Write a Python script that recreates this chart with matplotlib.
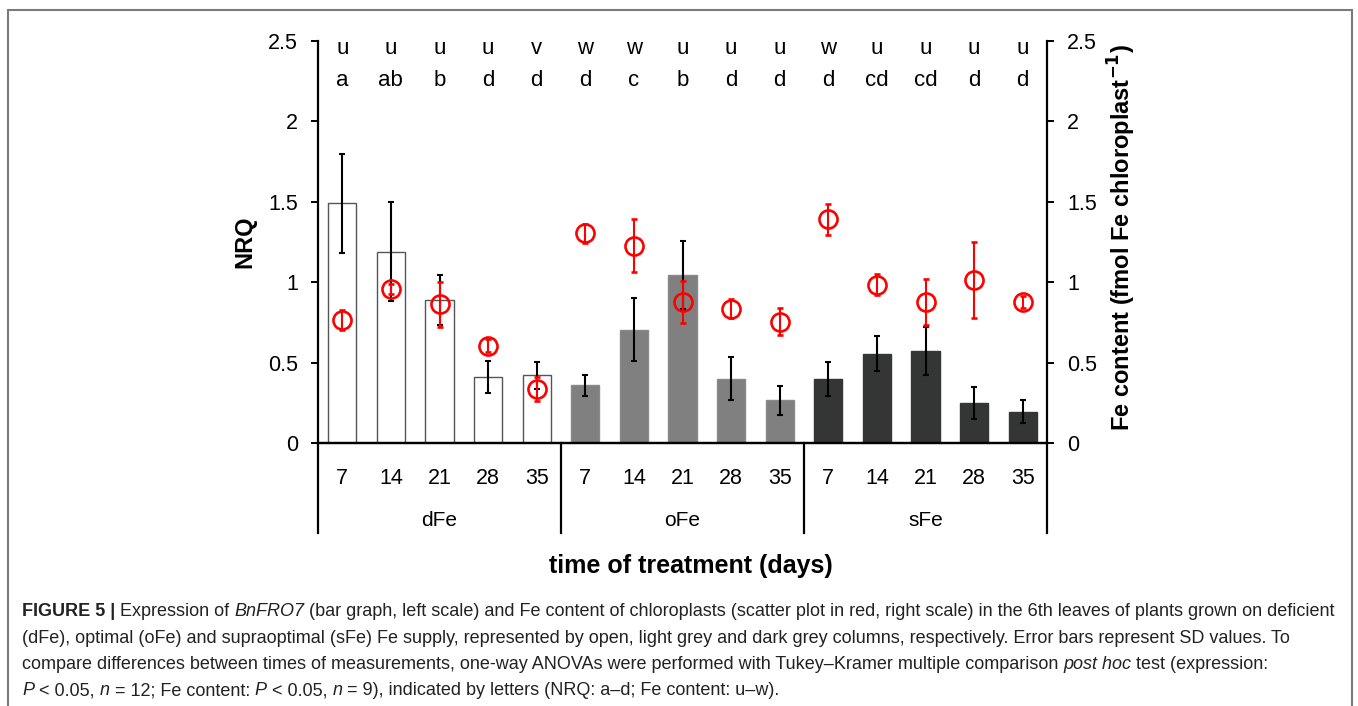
import matplotlib

matplotlib.use("Agg")
import matplotlib.pyplot as plt
from matplotlib import font_manager
from matplotlib.patches import Rectangle
from matplotlib.transforms import IdentityTransform
import numpy as np

# --- data ---------------------------------------------------------------
days = [7, 14, 21, 28, 35]
groups = ["dFe", "oFe", "sFe"]

nrq_dfe = [1.49, 1.19, 0.89, 0.41, 0.42]
nrq_dfe_sd = [0.31, 0.31, 0.155, 0.10, 0.085]
nrq_ofe = [0.36, 0.705, 1.045, 0.40, 0.265]
nrq_ofe_sd = [0.065, 0.195, 0.21, 0.135, 0.09]
nrq_sfe = [0.40, 0.555, 0.57, 0.25, 0.195]
nrq_sfe_sd = [0.105, 0.11, 0.15, 0.10, 0.072]

fe_dfe = [0.765, 0.956, 0.864, 0.605, 0.334]
fe_dfe_sd = [0.065, 0.031, 0.14, 0.039, 0.075]
fe_ofe = [1.304, 1.227, 0.879, 0.835, 0.755]
fe_ofe_sd = [0.058, 0.165, 0.13, 0.06, 0.085]
fe_sfe = [1.391, 0.983, 0.877, 1.014, 0.879]
fe_sfe_sd = [0.096, 0.065, 0.145, 0.236, 0.038]

fe_letters = ["u", "u", "u", "u", "v", "w", "w", "u", "u", "u", "w", "u", "u", "u", "u"]
nrq_letters = ["a", "ab", "b", "d", "d", "d", "c", "b", "d", "d", "d", "cd", "cd", "d", "d"]

caption = [
    [("FIGURE 5 | ", "bold"), ("Expression of ", "normal"), ("BnFRO7", "italic"),
     (" (bar graph, left scale) and Fe content of chloroplasts (scatter plot in red, right scale) "
      "in the 6th leaves of plants grown on deficient", "normal")],
    [("(dFe), optimal (oFe) and supraoptimal (sFe) Fe supply, represented by open, light grey and "
      "dark grey columns, respectively. Error bars represent SD values. To", "normal")],
    [("compare differences between times of measurements, one-way ANOVAs were performed with "
      "Tukey\u2013Kramer multiple comparison ", "normal"), ("post hoc", "italic"),
     (" test (expression:", "normal")],
    [("P", "italic"), (" < 0.05, ", "normal"), ("n", "italic"), (" = 12; Fe content: ", "normal"),
     ("P", "italic"), (" < 0.05, ", "normal"), ("n", "italic"),
     (" = 9), indicated by letters (NRQ: a\u2013d; Fe content: u\u2013w).", "normal")],
]

plt.rcParams["font.family"] = ["Liberation Sans", "DejaVu Sans"]

W, H = 1358, 706
fig = plt.figure(figsize=(W / 100, H / 100), dpi=100)

# axes box in pixels: left 318, right 1047, y=0 at 443, y=2.5 at 41
ax = fig.add_axes([318 / W, 1 - 443 / H, (1047 - 318) / W, (443 - 41) / H])
ax2 = ax.twinx()

nrq = [nrq_dfe, nrq_ofe, nrq_sfe]
nrq_sd = [nrq_dfe_sd, nrq_ofe_sd, nrq_sfe_sd]
fe = [fe_dfe, fe_ofe, fe_sfe]
fe_sd = [fe_dfe_sd, fe_ofe_sd, fe_sfe_sd]
bar_face = ["white", "#808080", "#333635"]
bar_edge = ["#555555", "#8a8a8a", "#333635"]

n = len(days)
for g in range(len(groups)):
    x = np.arange(n) + g * n + 0.5
    ax.bar(x, nrq[g], width=0.58, color=bar_face[g], edgecolor=bar_edge[g],
           linewidth=1.0, zorder=2)
    ax.errorbar(x, nrq[g], yerr=nrq_sd[g], fmt="none", ecolor="black",
                elinewidth=1.5, capsize=2.5, capthick=1.5, zorder=3)
    ax2.errorbar(x, fe[g], yerr=fe_sd[g], fmt="o", color="red", mfc="none",
                 mec="red", ms=13, mew=1.9, elinewidth=1.5, capsize=2.5,
                 capthick=1.5, zorder=4)

xs = np.arange(3 * n) + 0.5
for xi, a, b in zip(xs, fe_letters, nrq_letters):
    ax.text(xi, 2.456, a, ha="center", va="center", fontsize=16)
    ax.text(xi, 2.257, b, ha="center", va="center", fontsize=16)

for a in (ax, ax2):
    a.set_xlim(0, 3 * n)
    a.set_ylim(0, 2.5)
    a.spines["top"].set_visible(False)
    for s in a.spines.values():
        s.set_linewidth(1.6)
ax.spines["right"].set_visible(False)
ax2.spines["left"].set_visible(False)

yt = [0, 0.5, 1, 1.5, 2, 2.5]
ylab = ["0", "0.5", "1", "1.5", "2", "2.5"]
ax.set_yticks(yt, ylab)
ax2.set_yticks(yt, ylab)
ax.tick_params(axis="y", direction="out", length=5, width=1.4, pad=9.5, labelsize=15.5)
ax2.tick_params(axis="y", direction="out", length=5, width=1.4, pad=9.5, labelsize=15.5)

ax.set_xticks(xs, [str(d) for d in days] * 3)
ax.tick_params(axis="x", length=0, pad=18, labelsize=15.5)

# group separators and extended verticals below the axis
drop = -(533 - 443) / (443 - 41)
for xv in (0, n, 2 * n, 3 * n):
    ax.axvline(xv, ymin=drop, ymax=0, color="black", lw=1.6, clip_on=False)
for g, name in enumerate(groups):
    ax.text(g * n + n / 2, -(520 - 443) / (443 - 41), name, ha="center",
            va="center", fontsize=15, transform=ax.get_xaxis_transform())

ax.set_xlabel("time of treatment (days)", fontsize=18, fontweight="bold")
ax.xaxis.set_label_coords(0.5 + 8 / 729, -(554 - 443) / (443 - 41))
ax.set_ylabel("NRQ", fontsize=17, fontweight="bold")
ax.yaxis.set_label_coords(-(318 - 256) / 729, 0.5)
ax2.set_ylabel("Fe content (fmol Fe chloroplast$^{\\mathbf{-1}}$)", fontsize=17,
               fontweight="bold")
ax2.yaxis.set_label_coords((1106 - 318) / 729, 0.51)

# outer frame of the figure panel
fig.add_artist(Rectangle((8 / W, -0.05), 1344 / W, 1 - 10 / H + 0.05,
                         transform=fig.transFigure, fill=False,
                         edgecolor="#7a7a7a", lw=1.5))

# --- caption with mixed styles ------------------------------------------
try:
    font_manager.findfont(font_manager.FontProperties(family="Liberation Sans Narrow"),
                          fallback_to_default=False)
    cap_family = "Liberation Sans Narrow"
except ValueError:
    cap_family = "Liberation Sans"

renderer = fig.canvas.get_renderer()


def run_props(style, size):
    return font_manager.FontProperties(
        family=cap_family, size=size,
        weight="bold" if style == "bold" else "normal",
        style="italic" if style == "italic" else "normal")


def run_width(text, style, size):
    fp = run_props(style, size)
    w1 = renderer.get_text_width_height_descent("|" + text + "|", fp, ismath=False)[0]
    w0 = renderer.get_text_width_height_descent("||", fp, ismath=False)[0]
    return w1 - w0


def line_width(runs, size):
    return sum(run_width(t, s, size) for t, s in runs)


cap_size = 10 * (1335 - 22) / line_width(caption[0], 10)
for i, runs in enumerate(caption):
    x = 22
    y = H - (612 + 26.3 * i)
    for text, style in runs:
        fig.text(x, y, text, transform=IdentityTransform(), ha="left", va="center",
                 fontproperties=run_props(style, cap_size), color="#222222")
        x += run_width(text, style, cap_size)

fig.savefig("out.png", dpi=100)
